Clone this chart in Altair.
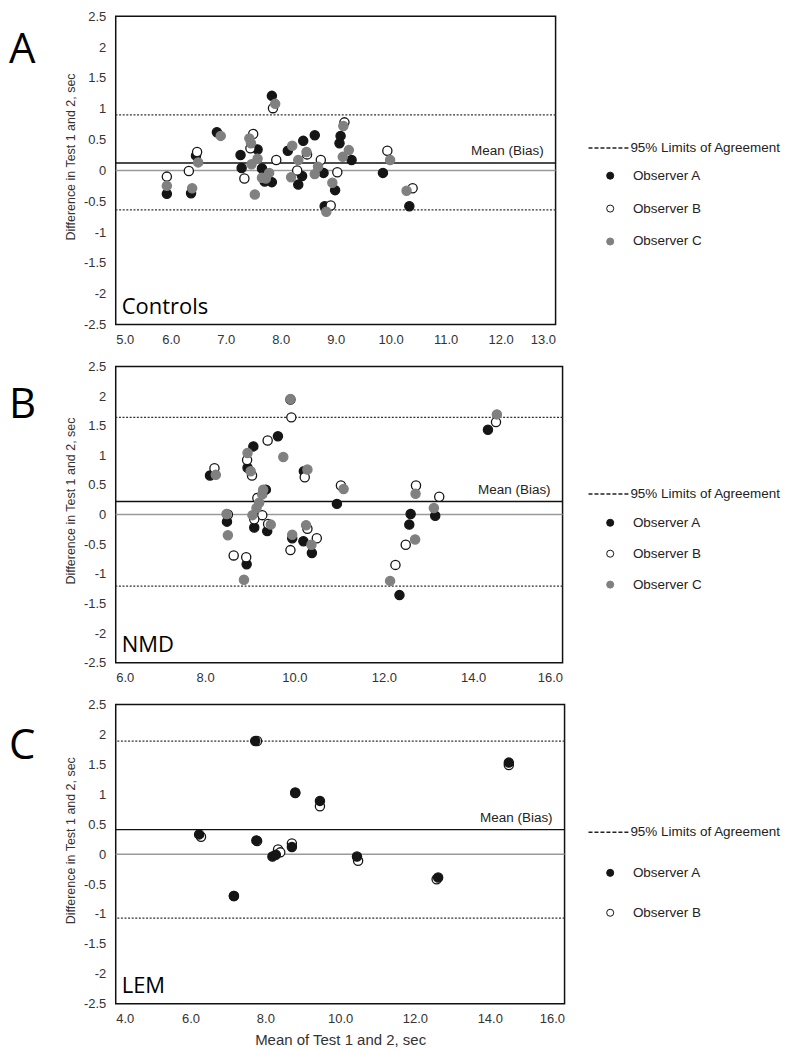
import altair as alt
import pandas as pd

FONT = "Liberation Sans, Arial, sans-serif"
LETTER_FONT = "Open Sans"

# ---------------- data ----------------
panel_letters = ["A", "B", "C"]
group_names = ["Controls", "NMD", "LEM"]
observers = ["Observer A", "Observer B", "Observer C"]
loa_label = "95% Limits of Agreement"
mean_label = "Mean (Bias)"

# Panel A - Controls
ctrl_A_x = [5.93, 6.37, 6.46, 6.84, 7.58, 7.27, 7.29, 7.66, 7.71, 7.84, 7.84, 8.13, 8.41, 8.39,
            8.32, 8.62, 8.78, 8.99, 8.80, 9.09, 9.07, 9.29, 9.86, 10.34]
ctrl_A_y = [-0.38, -0.37, 0.24, 0.62, 0.34, 0.25, 0.04, 0.03, -0.18, -0.19, 1.21, 0.32, 0.48, -0.09,
            -0.23, 0.57, -0.04, -0.32, -0.58, 0.56, 0.44, 0.17, -0.04, -0.58]
ctrl_B_x = [5.93, 6.33, 6.48, 7.50, 7.45, 7.34, 7.86, 7.92, 8.48, 8.30, 8.73, 9.03, 8.91, 9.16, 9.94, 10.40]
ctrl_B_y = [-0.10, -0.01, 0.30, 0.59, 0.36, -0.13, 1.01, 0.17, 0.26, 0.00, 0.17, -0.03, -0.57, 0.78, 0.32, -0.29]
ctrl_C_x = [5.93, 6.39, 6.50, 6.91, 7.43, 7.46, 7.58, 7.47, 7.66, 7.73, 7.79, 7.53, 7.90, 8.21, 8.32,
            8.47, 8.19, 8.68, 8.62, 8.94, 8.83, 9.14, 9.24, 9.13, 9.99, 10.29]
ctrl_C_y = [-0.25, -0.29, 0.13, 0.56, 0.52, 0.44, 0.19, 0.10, -0.12, -0.13, -0.04, -0.39, 1.08, 0.40, 0.17,
            0.30, -0.11, 0.06, -0.06, -0.20, -0.67, 0.72, 0.33, 0.22, 0.17, -0.33]
ctrl_lines = [0.90, -0.64, 0.12]  # upper LoA, lower LoA, mean bias

# Panel B - NMD
nmd_A_x = [8.11, 8.49, 8.93, 9.08, 8.95, 9.36, 9.18, 9.10, 9.39, 9.63, 9.91, 9.95, 10.21, 10.20,
           10.39, 10.95, 12.35, 12.57, 12.60, 13.15, 14.33]
nmd_A_y = [0.66, -0.12, -0.84, 1.15, 0.79, 0.42, 0.01, -0.22, -0.28, 1.32, 1.94, -0.40, 0.73, -0.45,
           -0.65, 0.18, -1.36, -0.17, 0.01, -0.02, 1.43]
nmd_B_x = [8.21, 8.51, 8.64, 8.92, 8.94, 9.05, 9.17, 9.28, 9.10, 9.41, 9.40, 9.93, 9.91, 10.23,
           10.29, 10.50, 11.04, 12.26, 12.49, 12.72, 13.24, 14.51]
nmd_B_y = [0.78, 0.00, -0.69, -0.72, 0.92, 0.66, 0.28, -0.01, -0.08, -0.16, 1.25, 1.64, -0.60, 0.63,
           -0.24, -0.40, 0.49, -0.85, -0.51, 0.49, 0.30, 1.56]
nmd_C_x = [8.24, 8.48, 8.51, 8.87, 8.95, 9.02, 9.30, 9.28, 9.21, 9.15, 9.06, 9.47, 9.75, 9.91,
           9.95, 10.29, 10.26, 10.38, 11.10, 12.14, 12.70, 12.71, 13.12, 14.53]
nmd_C_y = [0.67, 0.01, -0.35, -1.10, 1.04, 0.73, 0.42, 0.34, 0.20, 0.11, -0.01, -0.17, 0.97, 1.95,
           -0.34, 0.76, -0.18, -0.51, 0.43, -1.12, -0.42, 0.35, 0.11, 1.69]
nmd_lines = [1.64, -1.21, 0.22]

# Panel C - LEM
lem_A_x = [6.23, 7.16, 7.73, 7.76, 8.19, 8.28, 8.71, 8.80, 9.46, 10.45, 12.62, 14.51]
lem_A_y = [0.33, -0.70, 1.89, 0.23, -0.04, -0.01, 0.12, 1.03, 0.89, -0.04, -0.39, 1.53]
lem_B_x = [6.28, 7.16, 7.78, 7.78, 8.34, 8.40, 8.71, 8.80, 9.46, 10.48, 12.58, 14.51]
lem_B_y = [0.29, -0.70, 1.89, 0.22, 0.08, 0.03, 0.18, 1.02, 0.80, -0.11, -0.42, 1.49]
lem_lines = [1.89, -1.07, 0.41]

y_ticks = [-2.5, -2, -1.5, -1, -0.5, 0, 0.5, 1, 1.5, 2, 2.5]
xticks_A = [5, 6, 7, 8, 9, 10, 11, 12, 13]
xticks_B = [6, 8, 10, 12, 14, 16]
xticks_C = [4, 6, 8, 10, 12, 14, 16]

fill_map = {"Observer A": "#151515", "Observer B": "#ffffff", "Observer C": "#808080"}
stroke_map = {"Observer A": "#151515", "Observer B": "#151515", "Observer C": "#808080"}


def panel(letter, gname, series, lines, xdom, xvals, W, H, letter_y,
          loa_y, obs_y, row_pad, show_xtitle):
    rows = []
    for obs, xs, ys in series:
        for a, b in zip(xs, ys):
            rows.append({"mx": a, "d": b, "Observer": obs})
    pts = pd.DataFrame(rows)
    obs_dom = [o for o in observers if o in set(pts["Observer"])]
    upper, lower, mean = lines

    xsc = alt.Scale(domain=xdom, nice=False, zero=False)
    ysc = alt.Scale(domain=[-2.5, 2.5], nice=False, zero=False)
    xaxis = alt.Axis(values=xvals, format=".1f", labelPadding=9, titlePadding=7,
                     titleFontSize=15,
                     title="Mean of Test 1 and 2, sec" if show_xtitle else None)
    yaxis = alt.Axis(values=y_ticks, labelExpr="datum.value + ''", labelPadding=10,
                     titlePadding=6, titleY=H / 2 - 14, title="Difference in Test 1 and 2, sec")

    obs_legend = alt.Legend(title=None, orient="none", legendX=489, legendY=obs_y,
                            symbolType="circle", symbolSize=50, symbolStrokeWidth=1,
                            rowPadding=row_pad, labelOffset=16, labelFont=FONT,
                            labelFontSize=13.5, labelColor="#222", padding=0)
    loa_legend = alt.Legend(title=None, orient="none", legendX=473, legendY=loa_y,
                            symbolType="stroke", symbolSize=1600, symbolDash=[4, 2],
                            symbolStrokeWidth=1.5, symbolStrokeColor="#222",
                            labelOffset=1, labelFont=FONT, labelFontSize=13.5,
                            labelColor="#222", padding=0)

    loa_df = pd.DataFrame({"v": [upper, lower], "lbl": [loa_label, loa_label]})
    loa = alt.Chart(loa_df).mark_rule(strokeWidth=1.3, color="#333", strokeDash=[2, 1.6]).encode(
        y=alt.Y("v:Q", scale=ysc, axis=yaxis),
        opacity=alt.Opacity("lbl:N", scale=alt.Scale(domain=[loa_label], range=[1]),
                            legend=loa_legend),
    )
    zero = alt.Chart(pd.DataFrame({"v": [0.0]})).mark_rule(strokeWidth=1.5, color="#9a9a9a").encode(
        y=alt.Y("v:Q", scale=ysc, axis=yaxis))
    mean_df = pd.DataFrame({"v": [mean], "t": [mean_label]})
    mean_rule = alt.Chart(mean_df).mark_rule(strokeWidth=1.5, color="#111").encode(
        y=alt.Y("v:Q", scale=ysc, axis=yaxis))
    mean_text = alt.Chart(mean_df).mark_text(align="right", baseline="bottom", dy=-5,
                                             font=FONT, fontSize=13.5, color="#222").encode(
        y=alt.Y("v:Q", scale=ysc, axis=yaxis), x=alt.value(W - 12), text="t:N")

    points = alt.Chart(pts).mark_point(filled=False, size=85, opacity=1, strokeWidth=1.3).encode(
        x=alt.X("mx:Q", scale=xsc, axis=xaxis),
        y=alt.Y("d:Q", scale=ysc, axis=yaxis),
        fill=alt.Fill("Observer:N", scale=alt.Scale(domain=obs_dom, range=[fill_map[o] for o in obs_dom]),
                      legend=obs_legend),
        stroke=alt.Stroke("Observer:N", scale=alt.Scale(domain=obs_dom, range=[stroke_map[o] for o in obs_dom]),
                          legend=obs_legend),
    )

    grp = alt.Chart(pd.DataFrame({"t": [gname]})).mark_text(
        align="left", baseline="alphabetic", font=LETTER_FONT, fontSize=22, color="#000").encode(
        x=alt.value(6), y=alt.value(H - 11), text="t:N")
    let = alt.Chart(pd.DataFrame({"t": [letter]})).mark_text(
        align="left", baseline="alphabetic", font=LETTER_FONT, fontSize=42, color="#000").encode(
        x=alt.value(-107), y=alt.value(letter_y), text="t:N")

    return alt.layer(loa, zero, mean_rule, points, mean_text, grp, let).properties(width=W, height=H)


pA = panel(panel_letters[0], group_names[0],
           [("Observer A", ctrl_A_x, ctrl_A_y), ("Observer B", ctrl_B_x, ctrl_B_y),
            ("Observer C", ctrl_C_x, ctrl_C_y)],
           ctrl_lines, [5, 13], xticks_A, 441, 309, 47, 111, 153, 18, False)
pB = panel(panel_letters[1], group_names[1],
           [("Observer A", nmd_A_x, nmd_A_y), ("Observer B", nmd_B_x, nmd_B_y),
            ("Observer C", nmd_C_x, nmd_C_y)],
           nmd_lines, [6, 16], xticks_B, 448, 297, 52, 107, 150, 16, False)
pC = panel(panel_letters[2], group_names[2],
           [("Observer B", lem_B_x, lem_B_y), ("Observer A", lem_A_x, lem_A_y)],
           lem_lines, [4, 16], xticks_C, 450, 300, 55, 107, 162, 25, True)

chart = alt.vconcat(pA, pB, pC, spacing=12).resolve_scale(
    fill="independent", stroke="independent", opacity="independent"
).resolve_legend(
    fill="independent", stroke="independent", opacity="independent"
).properties(
    padding={"left": 0, "top": 0, "right": 0, "bottom": 0}
).configure_view(stroke="#111", strokeWidth=1.5).configure_axis(
    domain=False, ticks=False, grid=False,
    labelFont=FONT, labelFontSize=13, labelColor="#333",
    titleFont=FONT, titleFontSize=12.5, titleColor="#333", titleFontWeight="normal",
)

chart.save("out.html", embed_options={"renderer": "svg", "actions": False})
